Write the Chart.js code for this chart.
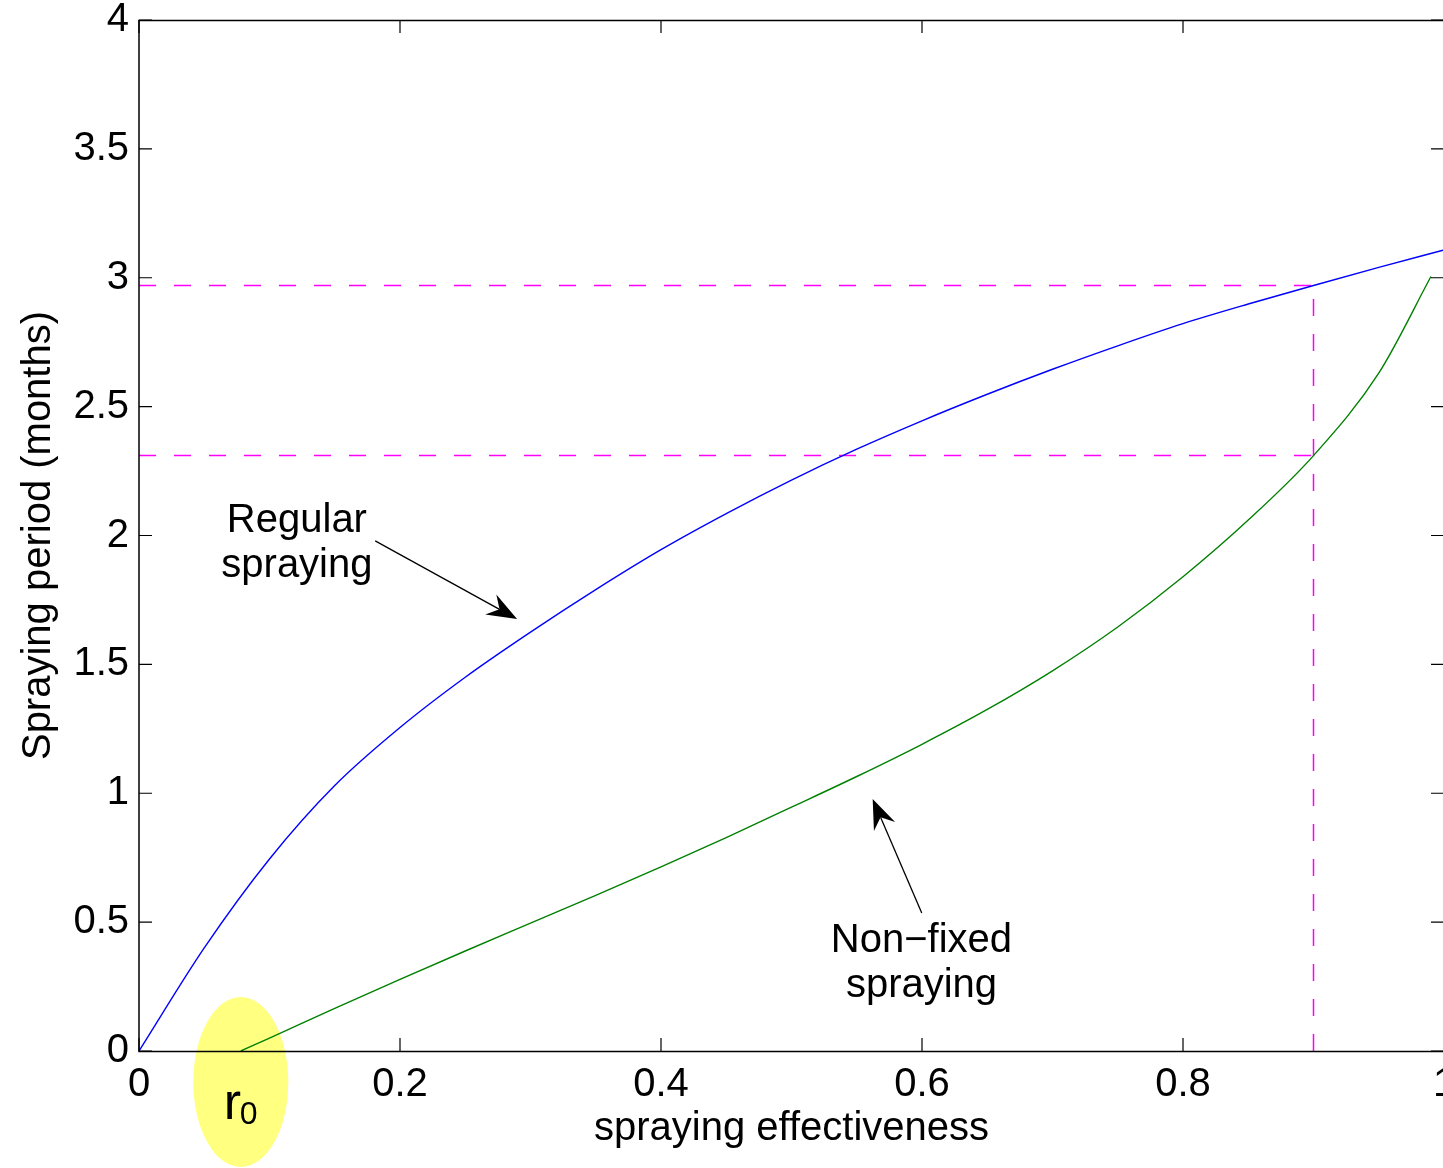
<!DOCTYPE html>
<html>
<head>
<meta charset="utf-8">
<title>Spraying period vs effectiveness</title>
<script src="https://cdn.jsdelivr.net/npm/chart.js@4/dist/chart.umd.min.js"></script>
<style>
  html, body { margin: 0; padding: 0; overflow: hidden; background: #fff; }
  #wrap { position: absolute; left: 0; top: 0; width: 1460px; height: 1168px; }
</style>
</head>
<body>
<div id="wrap"><canvas id="myChart"></canvas></div>
<script>
  // regular spraying: period needed for a given effectiveness
  const regularEff = [0, 0.05, 0.1, 0.15, 0.2, 0.25, 0.3, 0.35, 0.4, 0.45, 0.5,
    0.55, 0.6, 0.65, 0.7, 0.75, 0.8, 0.85, 0.9, 0.95, 1.0];
  const regularPeriod = [0, 0.40, 0.745, 1.03, 1.255, 1.45, 1.625, 1.79, 1.945, 2.085, 2.215,
    2.335, 2.445, 2.548, 2.645, 2.736, 2.822, 2.898, 2.97, 3.04, 3.108];

  // non-fixed spraying, starts at r0
  const nonFixedEff = [0.078, 0.1, 0.15, 0.2, 0.25, 0.3, 0.35, 0.4, 0.45, 0.5, 0.55, 0.6, 0.65,
    0.7, 0.75, 0.8, 0.85, 0.9, 0.95, 0.99];
  const nonFixedPeriod = [0, 0.05, 0.165, 0.278, 0.388, 0.496, 0.604, 0.714, 0.828, 0.946, 1.065, 1.19, 1.325,
    1.475, 1.645, 1.84, 2.06, 2.31, 2.63, 3.005];

  const xTicks = [0, 0.2, 0.4, 0.6, 0.8, 1];
  const yTicks = [0, 0.5, 1, 1.5, 2, 2.5, 3, 3.5, 4];

  const r0 = nonFixedEff[0];
  const markEff = 0.9;
  const markHigh = regularPeriod[regularEff.indexOf(markEff)];
  const markLow = nonFixedPeriod[nonFixedEff.indexOf(markEff)];

  const FONT = 'Liberation Sans, Arial, Helvetica, sans-serif';

  // text + arrow notes, anchored in data units
  const notes = [
    { lines: ['Regular', 'spraying'], at: [0.121, 2.014], from: [0.181, 1.979], to: [0.2897, 1.676] },
    { lines: ['Non\u2212fixed', 'spraying'], at: [0.5996, 0.3845], from: [0.5998, 0.535], to: [0.5622, 0.978] }
  ];

  const toXY = (xs, ys) => xs.map((x, i) => ({ x: x, y: ys[i] }));

  function drawArrow(ctx, x1, y1, x2, y2) {
    const a = Math.atan2(y2 - y1, x2 - x1);
    const c = Math.cos(a), s = Math.sin(a);
    const len = 30, half = 11.5, notch = 20;
    ctx.beginPath();
    ctx.moveTo(x1, y1);
    ctx.lineTo(x2 - notch * c, y2 - notch * s);
    ctx.stroke();
    ctx.beginPath();
    ctx.moveTo(x2, y2);
    ctx.lineTo(x2 - len * c + half * s, y2 - len * s - half * c);
    ctx.lineTo(x2 - notch * c, y2 - notch * s);
    ctx.lineTo(x2 - len * c - half * s, y2 - len * s + half * c);
    ctx.closePath();
    ctx.fill();
  }

  const r0Marker = {
    id: 'r0Marker',
    beforeDatasetsDraw(chart) {
      const ctx = chart.ctx;
      const x = chart.scales.x, area = chart.chartArea;
      const cx = x.getPixelForValue(r0), cy = area.bottom + 31;
      ctx.save();
      ctx.fillStyle = '#ffff80';
      ctx.beginPath();
      ctx.ellipse(cx, cy, 47.5, 85, 0, 0, Math.PI * 2);
      ctx.fill();
      ctx.fillStyle = '#000';
      ctx.textAlign = 'left';
      ctx.textBaseline = 'alphabetic';
      ctx.font = '52px ' + FONT;
      ctx.fillText('r', cx - 17, area.bottom + 68);
      ctx.font = '32px ' + FONT;
      ctx.fillText('0', cx - 1, area.bottom + 73);
      ctx.restore();
    }
  };

  // box round the axes with inward ticks on all four sides, then the notes
  const frame = {
    id: 'frame',
    afterDraw(chart) {
      const ctx = chart.ctx;
      const { left, right, top, bottom } = chart.chartArea;
      const xs = chart.scales.x, ys = chart.scales.y;
      const tick = 13;
      ctx.save();
      ctx.strokeStyle = '#000';
      ctx.lineWidth = 1.2;
      ctx.beginPath();
      xTicks.forEach(v => {
        const px = xs.getPixelForValue(v);
        ctx.moveTo(px, bottom); ctx.lineTo(px, bottom - tick);
        ctx.moveTo(px, top); ctx.lineTo(px, top + tick);
      });
      yTicks.forEach(v => {
        const py = ys.getPixelForValue(v);
        ctx.moveTo(left, py); ctx.lineTo(left + tick, py);
        ctx.moveTo(right, py); ctx.lineTo(right - tick, py);
      });
      ctx.stroke();
      ctx.lineWidth = 1.5;
      ctx.strokeRect(left, top + 0.5, right - left, bottom - top);

      ctx.fillStyle = '#000';
      ctx.lineWidth = 1.3;
      ctx.font = '40px ' + FONT;
      ctx.textAlign = 'center';
      ctx.textBaseline = 'alphabetic';
      notes.forEach(n => {
        const tx = xs.getPixelForValue(n.at[0]), ty = ys.getPixelForValue(n.at[1]);
        n.lines.forEach((t, i) => ctx.fillText(t, tx, ty + i * 45));
        drawArrow(ctx,
          xs.getPixelForValue(n.from[0]), ys.getPixelForValue(n.from[1]),
          xs.getPixelForValue(n.to[0]), ys.getPixelForValue(n.to[1]));
      });
      ctx.restore();
    }
  };

  const dashed = {
    borderColor: 'rgb(255, 0, 255)',
    borderWidth: 1.5,
    borderDash: [17, 18],
    pointRadius: 0,
    tension: 0
  };

  const ctx = document.getElementById('myChart').getContext('2d');

  const myChart = new Chart(ctx, {
    type: 'line',
    data: {
      datasets: [{
        data: toXY(regularEff, regularPeriod),
        borderColor: '#0000ff',
        borderWidth: 1.4,
        pointRadius: 0,
        cubicInterpolationMode: 'monotone'
      }, {
        data: toXY(nonFixedEff, nonFixedPeriod),
        borderColor: '#008000',
        borderWidth: 1.4,
        pointRadius: 0,
        cubicInterpolationMode: 'monotone'
      }, Object.assign({ data: [{ x: 0, y: markHigh }, { x: markEff, y: markHigh }] }, dashed),
         Object.assign({ data: [{ x: 0, y: markLow }, { x: markEff, y: markLow }] }, dashed),
         Object.assign({ data: [{ x: markEff, y: 0 }, { x: markEff, y: markHigh }] }, dashed)]
    },
    options: {
      responsive: true,
      maintainAspectRatio: false,
      animation: false,
      layout: { padding: { top: 20, right: 16, left: 0, bottom: 0 } },
      plugins: {
        legend: { display: false },
        tooltip: { enabled: false }
      },
      scales: {
        x: {
          type: 'linear',
          min: 0,
          max: 1,
          grid: { display: false, drawTicks: false },
          border: { display: false },
          afterBuildTicks: s => { s.ticks = xTicks.map(v => ({ value: v })); },
          afterFit: s => { s.height = 117; s.paddingLeft = 0; s.paddingRight = 0; },
          ticks: {
            autoSkip: false,
            maxRotation: 0,
            padding: 10,
            color: '#000',
            font: { family: FONT, size: 40 },
            callback: v => String(v)
          },
          title: {
            display: true,
            text: 'spraying effectiveness',
            color: '#000',
            font: { family: FONT, size: 40 },
            padding: { top: 0, bottom: 15 }
          }
        },
        y: {
          min: 0,
          max: 4,
          grid: { display: false, drawTicks: false },
          border: { display: false },
          afterBuildTicks: s => { s.ticks = yTicks.map(v => ({ value: v })); },
          afterFit: s => { s.width = 139; s.paddingTop = 0; s.paddingBottom = 0; },
          ticks: {
            autoSkip: false,
            padding: 10,
            color: '#000',
            font: { family: FONT, size: 40 },
            callback: v => String(v)
          },
          title: {
            display: true,
            text: 'Spraying period (months)',
            color: '#000',
            font: { family: FONT, size: 40 },
            padding: { top: 15, bottom: 0 }
          }
        }
      }
    },
    plugins: [r0Marker, frame]
  });
</script>
</body>
</html>
